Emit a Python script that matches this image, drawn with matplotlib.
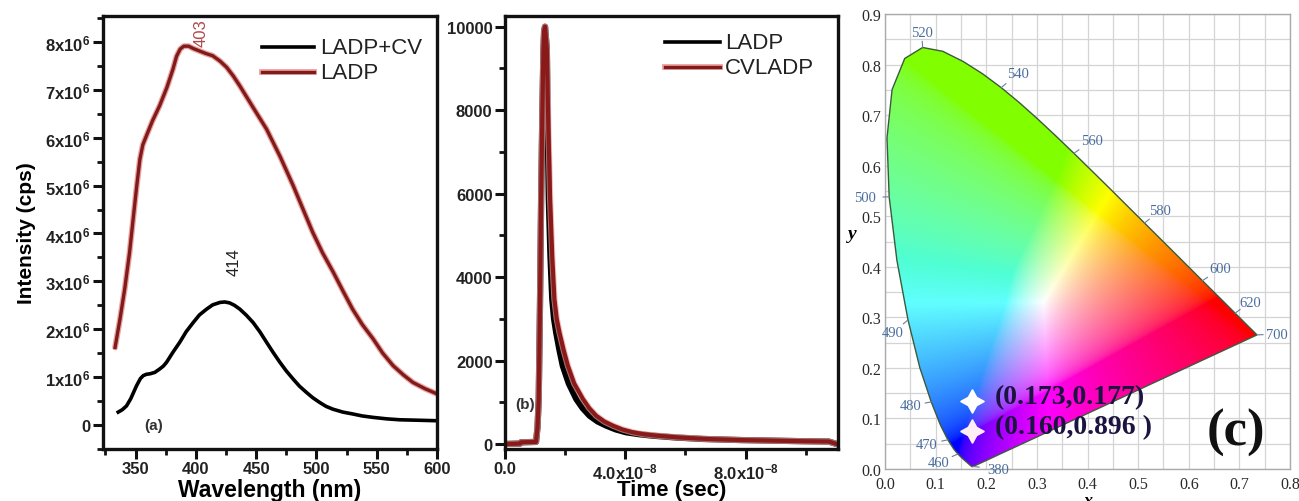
import numpy as np
import matplotlib
matplotlib.use("Agg")
import matplotlib.pyplot as plt
from matplotlib.patches import Polygon
from matplotlib.ticker import MultipleLocator, FixedLocator

plt.rcParams['font.family'] = ['Liberation Sans', 'DejaVu Sans']
plt.rcParams['mathtext.fontset'] = 'custom'
plt.rcParams['mathtext.rm'] = 'Liberation Sans:bold'
plt.rcParams['mathtext.it'] = 'Liberation Sans:bold'

# ---- (a) emission spectra (intensity in 1e6 cps) ----
wl_ladp = [333, 337, 341, 345, 348, 351, 353.6, 356, 359, 364, 370, 376, 381, 384, 387, 390,
           394, 398, 403, 408, 414, 420, 425.5, 431, 436.5, 447, 458.6, 470, 480.7, 489, 497,
           505, 514, 522, 530, 538, 547, 555, 563.6, 572, 580, 590, 600]
int_ladp = [1.62, 2.2, 2.84, 3.6, 4.30, 5.0, 5.55, 5.85, 6.04, 6.35, 6.67, 7.05, 7.43, 7.7,
            7.85, 7.91, 7.91, 7.86, 7.81, 7.76, 7.71, 7.60, 7.47, 7.29, 7.08, 6.65, 6.18, 5.6,
            5.0, 4.5, 4.02, 3.6, 3.19, 2.8, 2.42, 2.1, 1.80, 1.5, 1.24, 1.05, 0.89, 0.76, 0.65]
wl_cv = [335.6, 339, 342.5, 346, 350.8, 354, 356.3, 359, 362, 366, 370, 373, 375.7, 381,
         386.7, 392, 397.8, 403, 408.9, 414, 420, 424, 428, 432, 436.5, 442, 447.5, 453,
         458.6, 464, 469.7, 475, 480.7, 486, 491.8, 497, 502.8, 508, 513.8, 522, 530.4, 538,
         547, 558, 569, 585, 600]
int_cv = [0.27, 0.32, 0.40, 0.55, 0.82, 0.97, 1.03, 1.06, 1.07, 1.10, 1.17, 1.23, 1.31, 1.52,
          1.73, 1.95, 2.14, 2.30, 2.42, 2.51, 2.56, 2.57, 2.55, 2.50, 2.42, 2.29, 2.14, 1.95,
          1.73, 1.52, 1.31, 1.13, 0.96, 0.81, 0.68, 0.57, 0.47, 0.39, 0.33, 0.27, 0.23, 0.19,
          0.16, 0.13, 0.11, 0.10, 0.09]

# ---- (b) decay curves (time in units of 1e-8 s) ----
t_rise = [0.0, 0.5, 0.53, 1.03, 1.08, 1.12, 1.16, 1.2, 1.24, 1.277, 1.30, 1.33, 1.39]
cnt_rise = [0, 10, 40, 50, 400, 1078, 3200, 5868, 7900, 9461, 9900, 10000, 9461]
t_ladp = [1.42, 1.455, 1.51, 1.57, 1.63, 1.70, 1.81, 1.92, 2.12, 2.37, 2.58, 2.81, 3.08,
          3.37, 3.68, 4.03, 4.45, 4.9, 5.7, 6.6, 7.8, 8.92, 9.8, 10.59, 10.76, 11.03]
t_cvladp = [1.44, 1.50, 1.57, 1.643, 1.72, 1.81, 1.95, 2.09, 2.3, 2.59, 2.8, 3.03, 3.3,
            3.59, 3.9, 4.25, 4.6, 5.03, 5.8, 6.7, 7.8, 8.92, 9.8, 10.59, 10.76, 11.03]
cnt_decay = [7600, 5868, 4500, 3473, 3000, 2675, 2250, 1876, 1450, 1078, 860, 679, 540,
             439, 350, 280, 235, 200, 155, 120, 95, 80, 68, 60, 60, 0]

# ---- (c) CIE 1931 spectral locus ----
locus_nm = list(range(380, 705, 5))
locus_x = [0.1741, 0.1740, 0.1738, 0.1736, 0.1733, 0.1730, 0.1726, 0.1721, 0.1714, 0.1703,
           0.1689, 0.1669, 0.1644, 0.1611, 0.1566, 0.1510, 0.1440, 0.1355, 0.1241, 0.1096,
           0.0913, 0.0687, 0.0454, 0.0235, 0.0082, 0.0039, 0.0139, 0.0389, 0.0743, 0.1142,
           0.1547, 0.1929, 0.2296, 0.2658, 0.3016, 0.3373, 0.3731, 0.4087, 0.4441, 0.4788,
           0.5125, 0.5448, 0.5752, 0.6029, 0.6270, 0.6482, 0.6658, 0.6801, 0.6915, 0.7006,
           0.7079, 0.7140, 0.7190, 0.7230, 0.7260, 0.7283, 0.7300, 0.7311, 0.7320, 0.7327,
           0.7334, 0.7340, 0.7344, 0.7346, 0.7347]
locus_y = [0.0050, 0.0050, 0.0049, 0.0049, 0.0048, 0.0048, 0.0048, 0.0048, 0.0051, 0.0058,
           0.0069, 0.0086, 0.0109, 0.0138, 0.0177, 0.0227, 0.0297, 0.0399, 0.0578, 0.0868,
           0.1327, 0.2007, 0.2950, 0.4127, 0.5384, 0.6548, 0.7502, 0.8120, 0.8338, 0.8262,
           0.8059, 0.7816, 0.7543, 0.7243, 0.6923, 0.6589, 0.6245, 0.5896, 0.5547, 0.5202,
           0.4866, 0.4544, 0.4242, 0.3965, 0.3725, 0.3514, 0.3340, 0.3197, 0.3083, 0.2993,
           0.2920, 0.2859, 0.2809, 0.2770, 0.2740, 0.2717, 0.2700, 0.2689, 0.2680, 0.2673,
           0.2666, 0.2660, 0.2656, 0.2654, 0.2653]
label_nm = [520, 540, 560, 580, 600, 620, 700, 500, 490, 480, 470, 460, 380]
label_pos = [(0.0725, 0.864), (0.263, 0.783), (0.408, 0.649), (0.543, 0.511), (0.662, 0.396),
             (0.721, 0.330), (0.774, 0.267), (-0.040, 0.537), (0.016, 0.270), (0.050, 0.125),
             (0.083, 0.049), (0.106, 0.013), (0.224, 0.0)]
cie_points = ["(0.173,0.177)", "(0.160,0.896 )"]
marker_xy = [(0.171, 0.135), (0.171, 0.076)]
marker_col = ['#ffffff', '#ffeef4']

fig = plt.figure(figsize=(12.99, 5.02), dpi=100)

tick_font = dict(fontsize=12, fontweight='bold', color='#222222')
red_dark = '#7e1c1c'
red_halo = '#eea0a0'

# ================= panel (a) =================
ax1 = fig.add_axes([0.0793, 0.1036, 0.2571, 0.8625])
ladp_y = np.array(int_ladp) * 1e6
ax1.plot(wl_ladp, ladp_y, color=red_halo, lw=4.2, solid_capstyle='round')
ax1.plot(wl_ladp, ladp_y, color=red_dark, lw=2.4)
ax1.plot(wl_cv, np.array(int_cv) * 1e6, color='black', lw=2.6)
ax1.set_xlim(323, 600)
ax1.set_ylim(-0.5e6, 8.54e6)
ax1.set_xticks([350, 400, 450, 500, 550, 600])
ax1.set_xticklabels(['350', '400', '450', '500', '550', '600'], **tick_font)
ax1.xaxis.set_minor_locator(MultipleLocator(25))
ylabels = ['0'] + ['%dx10$^6$' % i for i in range(1, 9)]
ax1.set_yticks([i * 1e6 for i in range(0, 9)])
ax1.set_yticklabels(ylabels, **tick_font)
ax1.yaxis.set_minor_locator(MultipleLocator(0.5e6))
ax1.set_xlabel('Wavelength (nm)', fontsize=16.5, fontweight='bold', labelpad=1)
ax1.set_ylabel('Intensity (cps)', fontsize=15, fontweight='bold', labelpad=7)
ax1.text(404, 8.2e6, '403', rotation=90, fontsize=12, color='#b04848', ha='center', va='center')
ax1.text(432, 3.42e6, '414', rotation=90, fontsize=12, color='#222222', ha='center', va='center')
ax1.text(357, 0.0, '(a)', fontsize=11, fontweight='bold', color='#333333', ha='left', va='center')
# legend drawn by hand at the reference spot
ax1.plot([455, 498], [7.89e6, 7.89e6], color='black', lw=2.6)
ax1.plot([455, 498], [7.37e6, 7.37e6], color=red_halo, lw=4.2)
ax1.plot([455, 498], [7.37e6, 7.37e6], color=red_dark, lw=2.4)
ax1.text(503, 7.89e6, 'LADP+CV', fontsize=16, va='center', color='#222222')
ax1.text(503, 7.37e6, 'LADP', fontsize=16, va='center', color='#222222')

# ================= panel (b) =================
ax2 = fig.add_axes([0.3888, 0.1036, 0.2564, 0.8625])
tb = (np.array(t_rise + t_ladp)) * 1e-8
tr = (np.array(t_rise + t_cvladp)) * 1e-8
cb = cnt_rise + cnt_decay
ax2.plot(tb, cb, color='black', lw=4.5)
ax2.plot(tr, cb, color=red_halo, lw=4.5, alpha=0.7)
ax2.plot(tr, cb, color='#8a1a1a', lw=3.0)
ax2.set_xlim(0, 1.108e-7)
ax2.set_ylim(-120, 10256)
ax2.set_xticks([0, 4e-8, 8e-8])
ax2.set_xticklabels(['0.0', '4.0x10$^{-8}$', '8.0x10$^{-8}$'], **tick_font)
ax2.xaxis.set_minor_locator(FixedLocator([2e-8, 6e-8, 10e-8]))
ax2.set_yticks([0, 2000, 4000, 6000, 8000, 10000])
ax2.set_yticklabels(['0', '2000', '4000', '6000', '8000', '10000'], **tick_font)
ax2.yaxis.set_minor_locator(MultipleLocator(1000))
ax2.set_xlabel('Time (sec)', fontsize=16, fontweight='bold', labelpad=-2)
ax2.text(1.0e-8, 960, '(b)', fontsize=11, fontweight='bold', color='#333333', ha='right', va='center')
ax2.plot([5.31e-8, 7.14e-8], [9629, 9629], color='black', lw=2.6)
ax2.plot([5.31e-8, 7.14e-8], [9030, 9030], color=red_halo, lw=4.2)
ax2.plot([5.31e-8, 7.14e-8], [9030, 9030], color=red_dark, lw=2.4)
ax2.text(7.31e-8, 9629, 'LADP', fontsize=16, va='center', color='#222222')
ax2.text(7.31e-8, 9030, 'CVLADP', fontsize=16, va='center', color='#222222')

for ax in (ax1, ax2):
    for s in ax.spines.values():
        s.set_linewidth(2.4)
        s.set_color('#111111')
    ax.tick_params(which='major', direction='out', length=7, width=2.2, color='#111111', pad=2)
    ax.tick_params(which='minor', direction='out', length=4, width=2.0, color='#111111')

# ================= panel (c) =================
ax3 = fig.add_axes([0.6813, 0.0637, 0.3118, 0.9064])
ax3.set_xlim(0, 0.8)
ax3.set_ylim(0, 0.9)

# colour field from xy chromaticity -> sRGB
gx, gy = np.meshgrid(np.linspace(0, 0.8, 480), np.linspace(0.002, 0.9, 540))
X = gx / gy
Z = (1 - gx - gy) / gy
Y = np.ones_like(gx)
R = 3.2406 * X - 1.5372 * Y - 0.4986 * Z
G = -0.9689 * X + 1.8758 * Y + 0.0415 * Z
B = 0.0557 * X - 0.2040 * Y + 1.0570 * Z
rgb = np.clip(np.stack([R, G, B], axis=-1), 0, None)
rgb = rgb / rgb.max(axis=-1, keepdims=True).clip(1e-6)
# push the greens toward lime and soften cyan, like the reference diagram
rgb[..., 0] = np.maximum(rgb[..., 0], 0.22 * (rgb[..., 1] - rgb[..., 2]))
rgb[..., 0] = np.maximum(rgb[..., 0], 0.12 * np.minimum(rgb[..., 1], rgb[..., 2]))
rgb = np.where(rgb <= 0.0031308, 12.92 * rgb, 1.055 * rgb ** (1 / 2.4) - 0.055)
rgb = np.clip(rgb, 0, 1)
img = ax3.imshow(rgb, origin='lower', extent=[0, 0.8, 0.002, 0.9], interpolation='bilinear',
                 aspect='auto', zorder=2)
locus = Polygon(np.column_stack([locus_x, locus_y]), closed=True, transform=ax3.transData,
                facecolor='none', edgecolor='#3c5a3c', lw=1.0, zorder=3)
ax3.add_patch(locus)
img.set_clip_path(locus)

ax3.xaxis.set_minor_locator(MultipleLocator(0.05))
ax3.yaxis.set_minor_locator(MultipleLocator(0.05))
ax3.grid(which='both', color='#d4d4d4', lw=0.9, zorder=0)
ax3.set_axisbelow(True)
ax3.set_xticks(np.arange(0, 0.81, 0.1))
ax3.set_yticks(np.arange(0, 0.91, 0.1))
serif = ['Liberation Serif', 'DejaVu Serif']
ax3.set_xticklabels(['%.1f' % v for v in np.arange(0, 0.81, 0.1)], family=serif,
                    fontsize=11.5, color='#2a2a2a')
ax3.set_yticklabels(['%.1f' % v for v in np.arange(0, 0.91, 0.1)], family=serif,
                    fontsize=11.5, color='#2a2a2a')
ax3.tick_params(which='both', length=0)
ax3.tick_params(axis='x', pad=5)
ax3.tick_params(axis='y', pad=3)
for s in ax3.spines.values():
    s.set_color('#aaaaaa')
    s.set_linewidth(1.0)
ax3.set_xlabel('x', family=serif, fontsize=13, fontstyle='italic', fontweight='bold', labelpad=0)
ax3.set_ylabel('y', family=serif, fontsize=14, fontstyle='italic', fontweight='bold',
               rotation=0, labelpad=6)

for nm, (lx, ly) in zip(label_nm, label_pos):
    i = locus_nm.index(nm)
    px, py = locus_x[i], locus_y[i]
    dx, dy = lx - px, ly - py
    d = np.hypot(dx, dy)
    ax3.plot([px, px + dx / d * 0.012], [py, py + dy / d * 0.012], color='#6a7f99', lw=0.8,
             zorder=4, clip_on=False)
    ax3.text(lx, ly, str(nm), family=serif, fontsize=10.5, color='#4a6e9c', ha='center',
             va='center', zorder=5, clip_on=False)

for (mx, my), col, txt in zip(marker_xy, marker_col, cie_points):
    ax3.plot(mx, my, marker=(4, 1, 0), ms=17, color=col, mec=col, zorder=6)
    ax3.text(mx + 0.046, my + 0.008, txt, family=serif, fontsize=20, fontweight='bold',
             color='#1c1440', ha='left', va='center', zorder=6)
ax3.text(0.694, 0.073, '(c)', family=serif, fontsize=38, fontweight='bold', color='#111111',
         ha='center', va='center', zorder=6)

fig.savefig('out.png', dpi=100)
